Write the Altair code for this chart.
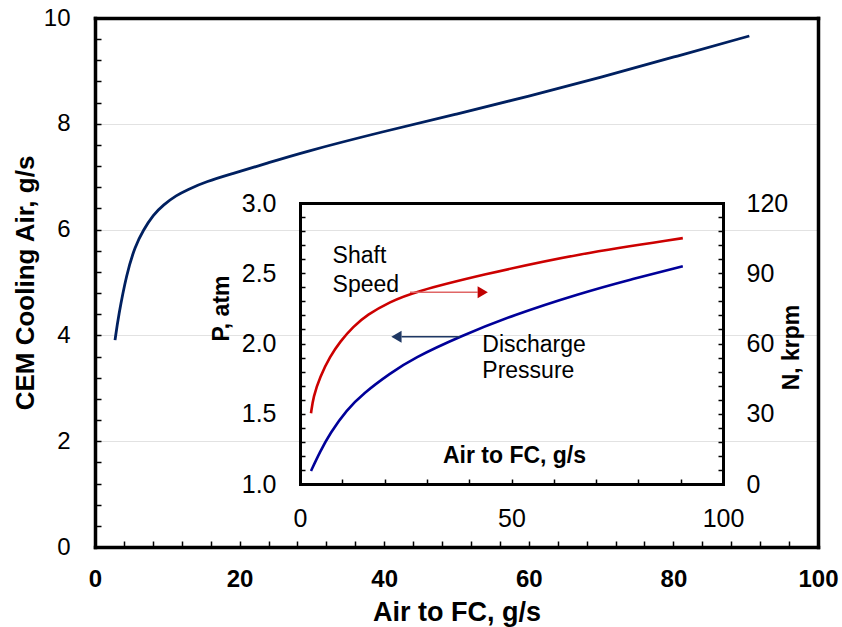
import altair as alt
import pandas as pd

FONT = "Liberation Sans, Arial, sans-serif"
W, H = 723, 529
PAD = {"left": 95, "top": 18, "right": 24, "bottom": 80}

# ---- main curve: CEM cooling air vs air to FC ----
cem_x = [2.77, 3.22, 4.38, 5.53, 6.68, 8.06, 9.45, 11.3, 12.7, 15.4, 19.1, 23.7, 28.4, 40, 50, 60, 70, 80, 90.5]
cem_y = [3.91, 4.35, 5.17, 5.68, 5.99, 6.28, 6.47, 6.65, 6.75, 6.91, 7.06, 7.25, 7.45, 7.86, 8.18, 8.52, 8.88, 9.26, 9.66]

# ---- inset: discharge pressure (atm) ----
p_x = [2.6, 4.73, 7.09, 11.0, 15.0, 21.3, 26.8, 37.8, 50.4, 66.2, 78, 90.5]
p_val = [1.093, 1.23, 1.361, 1.527, 1.646, 1.788, 1.895, 2.05, 2.203, 2.357, 2.455, 2.55]

# ---- inset: shaft speed (krpm) ----
n_x = [2.6, 3.15, 4.73, 7.09, 9.46, 12.6, 15.8, 21.3, 26.8, 42.6, 66.2, 90.5]
n_val = [30.2, 37.3, 45.8, 54.4, 60.8, 67.2, 72.2, 77.8, 81.9, 89.2, 98.5, 105.0]

# ---- annotations ----
arrow_n_x = [26.0, 42.0]
arrow_n_y = [81.9, 81.9]
head_n_x = [43.2]
head_n_y = [81.9]
arrow_p_x = [37.8, 24.0]
arrow_p_y = [2.048, 2.048]
head_p_x = [22.8]
head_p_y = [2.048]
note_text = ["Shaft", "Speed", "Discharge", "Pressure"]
note_x = [7.7, 7.7, 43.1, 43.1]
note_p = [2.573, 2.367, 1.942, 1.752]

main_df = pd.DataFrame({"x": cem_x, "y": cem_y})
p_df = pd.DataFrame({"x": p_x, "y": p_val})
n_df = pd.DataFrame({"x": n_x, "y": n_val})
arrow_n_df = pd.DataFrame({"x": arrow_n_x, "y": arrow_n_y})
head_n_df = pd.DataFrame({"x": head_n_x, "y": head_n_y})
arrow_p_df = pd.DataFrame({"x": arrow_p_x, "y": arrow_p_y})
head_p_df = pd.DataFrame({"x": head_p_x, "y": head_p_y})
note_df = pd.DataFrame({"x": note_x, "y": note_p, "t": note_text})

# ---- scales ----
def main_xs():
    return alt.Scale(domain=[0, 100], nice=False, zero=False)

def main_ys():
    return alt.Scale(domain=[0, 10], nice=False, zero=False)

IX0, IX1 = 205, 628   # inset left / right, plot pixels
IY0, IY1 = 466, 185   # inset bottom / top, plot pixels

def in_xs():
    return alt.Scale(domain=[0, 100], range=[IX0, IX1], nice=False, zero=False)

def in_ps():
    return alt.Scale(domain=[1, 3], range=[IY0, IY1], nice=False, zero=False)

def in_ns():
    return alt.Scale(domain=[0, 120], range=[IY0, IY1], nice=False, zero=False)

MAIN_BOX = dict(domain=True, domainWidth=3.5, domainColor="black", domainCap="square")
BOX = dict(domain=True, domainWidth=3, domainColor="black", domainCap="square")

# ---- axes ----
main_x_axis = alt.Axis(
    orient="bottom", values=list(range(0, 101, 4)),
    labelExpr="abs(datum.value/20 - round(datum.value/20)) < 0.001 ? format(datum.value, 'd') : ''",
    tickSize={"expr": "-6"}, tickWidth=1.5, tickColor="black", grid=False, **MAIN_BOX,
    labelFontSize=24, labelFontWeight="bold", labelPadding=45, labelBaseline="alphabetic",
    labelFlush=False, labelOverlap=False, labelBound=False,
    title="Air to FC, g/s", titleFontSize=27, titleFontWeight="bold",
    titleX=W / 2, titleY=73, titleBaseline="alphabetic", titleAlign="center",
)
main_y_axis = alt.Axis(
    orient="left", values=[round(0.4 * i, 1) for i in range(26)],
    labelExpr="abs(datum.value/2 - round(datum.value/2)) < 0.001 ? format(datum.value, '.0f') : ''",
    tickSize={"expr": "-6"}, tickWidth=1.5, tickColor="black", grid=False, **MAIN_BOX,
    labelFontSize=24, labelPadding=31, labelOverlap=False, labelFlush=False, labelBound=False,
    title="CEM Cooling Air, g/s", titleFontSize=26, titleFontWeight="bold",
    titleAngle=270, titleX=-62, titleY=H / 2, titleBaseline="alphabetic", titleAlign="center",
)
main_top_axis = alt.Axis(orient="top", ticks=False, labels=False, grid=False, title=None, **MAIN_BOX)
main_right_axis = alt.Axis(
    orient="right", values=[2, 4, 6, 8], ticks=False, labels=False, title=None,
    grid=True, gridColor="#e2e2e2", gridWidth=1, **MAIN_BOX,
)

inset_x_axis = alt.Axis(
    orient="bottom", offset=IY0 - H, values=list(range(0, 101, 10)),
    labelExpr="datum.value % 50 === 0 ? format(datum.value, 'd') : ''",
    tickSize={"expr": "-5"}, tickWidth=1.5, tickColor="black", grid=False, **BOX,
    labelFontSize=25, labelPadding=47, labelBaseline="alphabetic",
    labelFlush=False, labelOverlap=False, labelBound=False,
    title="Air to FC, g/s", titleFontSize=23, titleFontWeight="bold",
    titleX=419, titleY=-22, titleBaseline="alphabetic", titleAlign="center",
)
inset_p_axis = alt.Axis(
    orient="left", offset=-IX0, values=[round(1 + 0.1 * i, 1) for i in range(21)],
    labelExpr="abs(datum.value*2 - round(datum.value*2)) < 0.001 ? format(datum.value, '.1f') : ''",
    tickSize={"expr": "-5"}, tickWidth=1.5, tickColor="black", grid=False, **BOX,
    labelFontSize=25, labelPadding=29, labelOverlap=False, labelFlush=False, labelBound=False,
    title="P, atm", titleFontSize=23, titleFontWeight="bold",
    titleAngle=270, titleX=-72, titleY=290, titleBaseline="alphabetic", titleAlign="center",
)
inset_n_axis = alt.Axis(
    orient="right", offset=IX1 - W, values=[6 * i for i in range(21)],
    labelExpr="datum.value % 30 === 0 ? format(datum.value, 'd') : ''",
    tickSize={"expr": "-5"}, tickWidth=1.5, tickColor="black", grid=False, **BOX,
    labelFontSize=25, labelPadding=28, labelOverlap=False, labelFlush=False, labelBound=False,
    title="N, krpm", titleFontSize=23, titleFontWeight="bold",
    titleAngle=270, titleX=75, titleY=329, titleBaseline="alphabetic", titleAlign="center",
)
inset_top_axis = alt.Axis(orient="top", offset=-IY1, ticks=False, labels=False, grid=False, title=None, **BOX)

# ---- layers ----
# same data, invisible: carries the top/right frame and the faint gridlines of the main plot
main_frame = alt.Chart(main_df).mark_line(strokeOpacity=0).encode(
    x=alt.X("x:Q", scale=main_xs(), axis=main_top_axis),
    y=alt.Y("y:Q", scale=main_ys(), axis=main_right_axis),
)
main_line = alt.Chart(main_df).mark_line(color="#002060", strokeWidth=2.8, interpolate="basis").encode(
    x=alt.X("x:Q", scale=main_xs(), axis=main_x_axis),
    y=alt.Y("y:Q", scale=main_ys(), axis=main_y_axis),
)

p_line = alt.Chart(p_df).mark_line(color="#000099", strokeWidth=2.6, interpolate="basis").encode(
    x=alt.X("x:Q", scale=in_xs(), axis=inset_x_axis),
    y=alt.Y("y:Q", scale=in_ps(), axis=inset_p_axis),
)

n_line = alt.Chart(n_df).mark_line(color="#CC0000", strokeWidth=2.6, interpolate="basis").encode(
    x=alt.X("x:Q", scale=in_xs(), axis=inset_top_axis),
    y=alt.Y("y:Q", scale=in_ns(), axis=inset_n_axis),
)

n_arrow = alt.Chart(arrow_n_df).mark_line(color="#E06666", strokeWidth=1.6).encode(
    x=alt.X("x:Q", scale=in_xs(), axis=None),
    y=alt.Y("y:Q", scale=in_ns(), axis=None),
)
n_head = alt.Chart(head_n_df).mark_point(shape="triangle-right", filled=True, size=140, color="#C00000", opacity=1).encode(
    x=alt.X("x:Q", scale=in_xs(), axis=None),
    y=alt.Y("y:Q", scale=in_ns(), axis=None),
)
p_arrow = alt.Chart(arrow_p_df).mark_line(color="#1F3864", strokeWidth=1.6).encode(
    x=alt.X("x:Q", scale=in_xs(), axis=None),
    y=alt.Y("y:Q", scale=in_ps(), axis=None),
)
p_head = alt.Chart(head_p_df).mark_point(shape="triangle-left", filled=True, size=140, color="#1F3864", opacity=1).encode(
    x=alt.X("x:Q", scale=in_xs(), axis=None),
    y=alt.Y("y:Q", scale=in_ps(), axis=None),
)
notes = alt.Chart(note_df).mark_text(align="left", baseline="alphabetic", font=FONT, fontSize=23, color="black").encode(
    x=alt.X("x:Q", scale=in_xs(), axis=None),
    y=alt.Y("y:Q", scale=in_ps(), axis=None),
    text="t:N",
)

chart = alt.layer(
    main_frame, main_line, p_line, n_line, n_arrow, n_head, p_arrow, p_head, notes
).resolve_scale(
    x="independent", y="independent"
).properties(
    width=W, height=H, autosize=alt.AutoSizeParams(type="none"), padding=PAD,
    background="white",
).configure_view(
    stroke=None
).configure_axis(
    labelFont=FONT, titleFont=FONT, labelColor="black", titleColor="black",
)

chart.save("out.html", embed_options={"renderer": "svg", "actions": False})
